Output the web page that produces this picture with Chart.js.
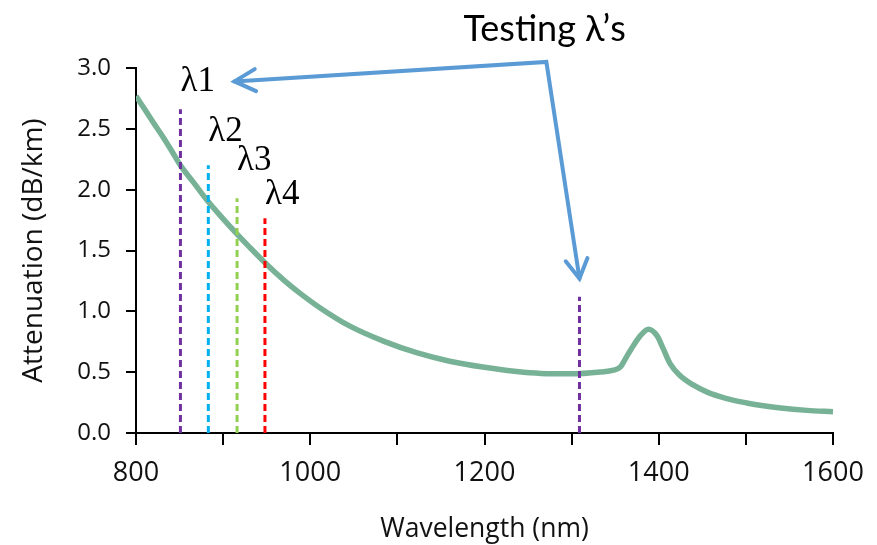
<!DOCTYPE html>
<html>
<head>
<meta charset="utf-8">
<script src="https://cdn.jsdelivr.net/npm/chart.js@4.4.1/dist/chart.umd.min.js"></script>
<style>
  html, body { margin: 0; padding: 0; background: #fff; }
  #chart { display: block; }
</style>
</head>
<body>
<canvas id="chart" width="877" height="545"></canvas>
<script>
// attenuation curve
const wavelengths = [800, 810, 820, 828, 840, 851, 866, 883, 900, 916, 930, 948, 970, 988, 1011, 1045, 1084, 1122, 1160, 1200, 1237, 1265, 1300, 1333, 1348, 1356, 1363, 1371, 1379, 1388, 1398, 1405, 1413, 1424, 1440, 1455, 1478, 1501, 1516, 1540, 1570, 1600];
const attenuation = [2.77, 2.66, 2.55, 2.465, 2.33, 2.20, 2.06, 1.90, 1.76, 1.635, 1.53, 1.40, 1.255, 1.15, 1.03, 0.88, 0.755, 0.66, 0.59, 0.54, 0.505, 0.49, 0.487, 0.502, 0.516, 0.543, 0.626, 0.72, 0.80, 0.853, 0.80, 0.695, 0.571, 0.475, 0.393, 0.338, 0.283, 0.247, 0.228, 0.205, 0.186, 0.175];

// testing wavelengths (dashed markers)
const testWavelengths = [851, 883, 916, 948, 1309];
const testTops = [2.66, 2.20, 1.93, 1.765, 1.12];
const testLabels = ['λ1', 'λ2', 'λ3', 'λ4', ''];
const testLabelLevels = [2.81, 2.40, 2.16, 1.88, 0];
const testColors = ['#7030a0', '#00b0f0', '#92d050', '#ff0000', '#7030a0'];

const xTickLabels = [800, 1000, 1200, 1400, 1600];
const yTickLabels = ['0.0', '0.5', '1.0', '1.5', '2.0', '2.5', '3.0'];

const datasets = testWavelengths.map((w, i) => ({
  data: [{ x: w, y: 0 }, { x: w, y: testTops[i] }],
  borderColor: testColors[i],
  borderWidth: 3,
  borderDash: [7, 4],
  pointRadius: 0,
}));
datasets.push({
  data: wavelengths.map((w, i) => ({ x: w, y: attenuation[i] })),
  borderColor: '#78b296',
  borderWidth: 5.5,
  pointRadius: 0,
  cubicInterpolationMode: 'monotone',
});

function arrowHead(ctx, fx, fy, tx, ty, len, half) {
  const a = Math.atan2(ty - fy, tx - fx);
  ctx.beginPath();
  ctx.moveTo(tx - len * Math.cos(a) + half * Math.sin(a), ty - len * Math.sin(a) - half * Math.cos(a));
  ctx.lineTo(tx, ty);
  ctx.lineTo(tx - len * Math.cos(a) - half * Math.sin(a), ty - len * Math.sin(a) + half * Math.cos(a));
  ctx.stroke();
}

const annotations = {
  id: 'annotations',
  afterDraw(chart) {
    const { ctx, scales: { x, y } } = chart;
    ctx.save();
    // λ labels
    ctx.fillStyle = '#000';
    ctx.font = '35px "Liberation Serif", serif';
    ctx.textBaseline = 'alphabetic';
    ctx.textAlign = 'left';
    testLabels.forEach((t, i) => {
      if (t) ctx.fillText(t, x.getPixelForValue(testWavelengths[i]), y.getPixelForValue(testLabelLevels[i]));
    });
    // title
    ctx.font = '36px Lato, sans-serif';
    ctx.textAlign = 'center';
    ctx.fillText('Testing λ’s', x.getPixelForValue(1269), y.getPixelForValue(3.22));
    // arrows
    const cx = x.getPixelForValue(1271), cy = y.getPixelForValue(3.05);
    const lx = x.getPixelForValue(913), ly = y.getPixelForValue(2.89);
    const dx = x.getPixelForValue(1309), dy = y.getPixelForValue(1.27);
    ctx.strokeStyle = '#5b9bd5';
    ctx.lineWidth = 4;
    ctx.lineJoin = 'miter';
    ctx.lineCap = 'round';
    ctx.beginPath();
    ctx.moveTo(lx, ly);
    ctx.lineTo(cx, cy);
    ctx.lineTo(dx, dy);
    ctx.stroke();
    arrowHead(ctx, cx, cy, lx, ly, 21, 11);
    arrowHead(ctx, cx, cy, dx, dy, 19, 11);
    ctx.restore();
  }
};

new Chart(document.getElementById('chart'), {
  type: 'line',
  data: { datasets },
  options: {
    responsive: false,
    devicePixelRatio: 1,
    animation: false,
    layout: { padding: { left: 0, right: 44, top: 68, bottom: 0 } },
    plugins: { legend: { display: false }, tooltip: { enabled: false } },
    scales: {
      x: {
        type: 'linear',
        min: 800,
        max: 1600,
        afterFit: (s) => { s.height = 112; },
        border: { display: true, color: '#000', width: 2 },
        grid: { drawOnChartArea: false, drawTicks: true, tickLength: 12, color: '#000', lineWidth: 2 },
        ticks: {
          stepSize: 100,
          autoSkip: false,
          maxRotation: 0,
          padding: 12,
          color: '#111',
          font: { family: 'Open Sans', size: 27 },
          callback: (v) => (xTickLabels.includes(v) ? String(v) : ''),
        },
        title: {
          display: true,
          text: 'Wavelength (nm)',
          color: '#111',
          font: { family: 'Open Sans', size: 26.5 },
          padding: { top: -4, bottom: 0 },
        },
      },
      y: {
        min: 0,
        max: 3,
        afterFit: (s) => { s.width = 136; },
        border: { display: true, color: '#000', width: 2 },
        grid: { drawOnChartArea: false, drawTicks: true, tickLength: 10, color: '#000', lineWidth: 2 },
        ticks: {
          stepSize: 0.5,
          padding: 15,
          color: '#111',
          font: { family: 'Open Sans', size: 24 },
          callback: (v) => yTickLabels[Math.round(v * 2)],
        },
        title: {
          display: true,
          text: 'Attenuation (dB/km)',
          color: '#111',
          font: { family: 'Open Sans', size: 28 },
          padding: { top: 17, bottom: 0 },
        },
      },
    },
  },
  plugins: [annotations],
});
</script>
</body>
</html>
